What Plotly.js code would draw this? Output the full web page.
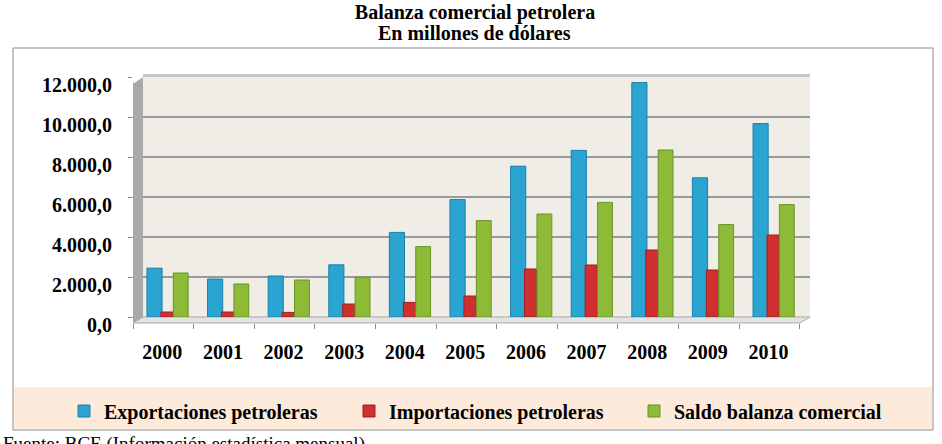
<!DOCTYPE html>
<html>
<head>
<meta charset="utf-8">
<script src="https://cdn.plot.ly/plotly-3.0.1.min.js"></script>
<style>
  html, body { margin: 0; padding: 0; background: #ffffff; }
  #chart { width: 942px; height: 444px; }
</style>
</head>
<body>
<div id="chart"></div>
<script>
// Balanza comercial petrolera del Ecuador, 2000-2010 (millones de dólares)
const years = ['2000', '2001', '2002', '2003', '2004', '2005', '2006', '2007', '2008', '2009', '2010'];
const exportaciones = [2440, 1900, 2050, 2610, 4230, 5870, 7540, 8330, 11720, 6960, 9670];
const importaciones = [250, 250, 230, 650, 730, 1050, 2400, 2600, 3350, 2350, 4100];
const saldo = [2200, 1650, 1850, 1990, 3520, 4820, 5150, 5730, 8350, 4620, 5620];
const seriesNames = ['Exportaciones petroleras', 'Importaciones petroleras', 'Saldo balanza comercial'];
const yTicks = [0, 2000, 4000, 6000, 8000, 10000, 12000];

const W = 942, H = 444;
const X = px => px / W;          // pixel -> paper x
const Y = py => 1 - py / H;      // pixel -> paper y
const SERIF = "'Liberation Serif', 'DejaVu Serif', serif";

function barTrace(name, values, color, edge, offset, width) {
  return {
    type: 'bar', name: name, x: years, y: values,
    offset: offset, width: width,
    marker: { color: color, line: { color: edge, width: 1 } },
    hoverinfo: 'x+y+name'
  };
}

const data = [
  barTrace(seriesNames[0], exportaciones, '#2AA5D2', '#1C7FA8', -0.27, 0.25),
  barTrace(seriesNames[1], importaciones, '#CF2F2E', '#9E2020', -0.04, 0.20),
  barTrace(seriesNames[2], saldo, '#8DBB38', '#6A9325', 0.165, 0.245)
];

// Decorative box, legend band and the pseudo-3D walls of the plot
const shapes = [
  { type: 'rect', xref: 'paper', yref: 'paper', layer: 'below',
    x0: X(13), x1: X(933), y0: Y(430), y1: Y(48),
    line: { color: '#8C8C8C', width: 1 } },
  { type: 'rect', xref: 'paper', yref: 'paper', layer: 'below',
    x0: X(14), x1: X(932), y0: Y(429), y1: Y(387),
    fillcolor: '#FDEADA', line: { width: 0 } },
  { type: 'path', xref: 'paper', yref: 'paper', layer: 'below',
    path: `M${X(143)},${Y(317)} L${X(810)},${Y(317)} L${X(800)},${Y(323)} L${X(133)},${Y(323)} Z`,
    fillcolor: '#E4E4E4', line: { color: '#A8A8A8', width: 1 } },
  { type: 'rect', xref: 'paper', yref: 'paper', layer: 'above',
    x0: X(143), x1: X(810), y0: Y(77), y1: Y(74),
    fillcolor: '#C6C6C6', line: { width: 0 } },
  { type: 'path', xref: 'paper', yref: 'paper', layer: 'above',
    path: `M${X(133)},${Y(84)} L${X(143)},${Y(77)} L${X(143)},${Y(317)} L${X(133)},${Y(323)} Z`,
    fillcolor: '#A9A9A9', line: { width: 0 } },
  { type: 'path', xref: 'paper', yref: 'paper', layer: 'above',
    path: `M${X(132)},${Y(73)} L${X(143)},${Y(73)} L${X(143)},${Y(77)} L${X(132)},${Y(84)} Z`,
    fillcolor: '#FFFFFF', line: { width: 0 } }
];

const layout = {
  width: W, height: H,
  margin: { l: 0, r: 0, t: 0, b: 0 },
  paper_bgcolor: '#FFFFFF',
  plot_bgcolor: '#EFEDE6',
  separators: ',.',
  barmode: 'overlay',
  font: { family: SERIF, color: '#000000' },
  title: {
    text: '<b>Balanza comercial petrolera</b>',
    x: X(475), xanchor: 'center', xref: 'container',
    y: Y(12), yanchor: 'middle', yref: 'container',
    font: { family: SERIF, size: 20, color: '#000000' }
  },
  annotations: [
    { text: '<b>En millones de dólares</b>', xref: 'paper', yref: 'paper',
      x: X(474), y: Y(33), xanchor: 'center', yanchor: 'middle', showarrow: false,
      font: { family: SERIF, size: 20, color: '#000000' } },
    { text: 'Fuente: BCE (Información estadística mensual)', xref: 'paper', yref: 'paper',
      x: X(1), y: Y(431), xanchor: 'left', yanchor: 'top', showarrow: false,
      font: { family: SERIF, size: 19, color: '#000000' } }
  ],
  xaxis: {
    type: 'category',
    domain: [X(133), X(810)],
    range: [-0.5, 10.67],
    anchor: 'free', position: Y(323),
    showgrid: false, zeroline: false, showline: false,
    ticks: 'outside', tickson: 'boundaries', ticklen: 5, tickcolor: '#8C8C8C', tickwidth: 1,
    ticklabelstandoff: 15, ticklabelshift: -1,
    tickfont: { family: SERIF, size: 20, color: '#000000', weight: 'bold' },
    fixedrange: true
  },
  yaxis: {
    domain: [Y(317), Y(77)],
    range: [0, 12000],
    anchor: 'free', position: X(133),
    tickmode: 'array', tickvals: yTicks, tickformat: ',.1f',
    showgrid: true, gridcolor: '#9A9A9A', gridwidth: 2,
    zeroline: false,
    showline: true, linecolor: '#8C8C8C', linewidth: 1,
    ticks: 'outside', ticklen: 5, tickcolor: '#8C8C8C',
    ticklabelstandoff: 12, ticklabelshift: 8,
    tickfont: { family: SERIF, size: 20, color: '#000000', weight: 'bold' },
    fixedrange: true
  },
  shapes: shapes,
  showlegend: true,
  legend: {
    orientation: 'h',
    x: X(64), xanchor: 'left',
    y: Y(411), yanchor: 'middle',
    entrywidth: 240, entrywidthmode: 'pixels',
    bgcolor: 'rgba(0,0,0,0)',
    font: { family: SERIF, size: 20, color: '#000000', weight: 'bold' },
    traceorder: 'normal'
  }
};

Plotly.newPlot('chart', data, layout, { displayModeBar: false, staticPlot: true });
</script>
</body>
</html>
